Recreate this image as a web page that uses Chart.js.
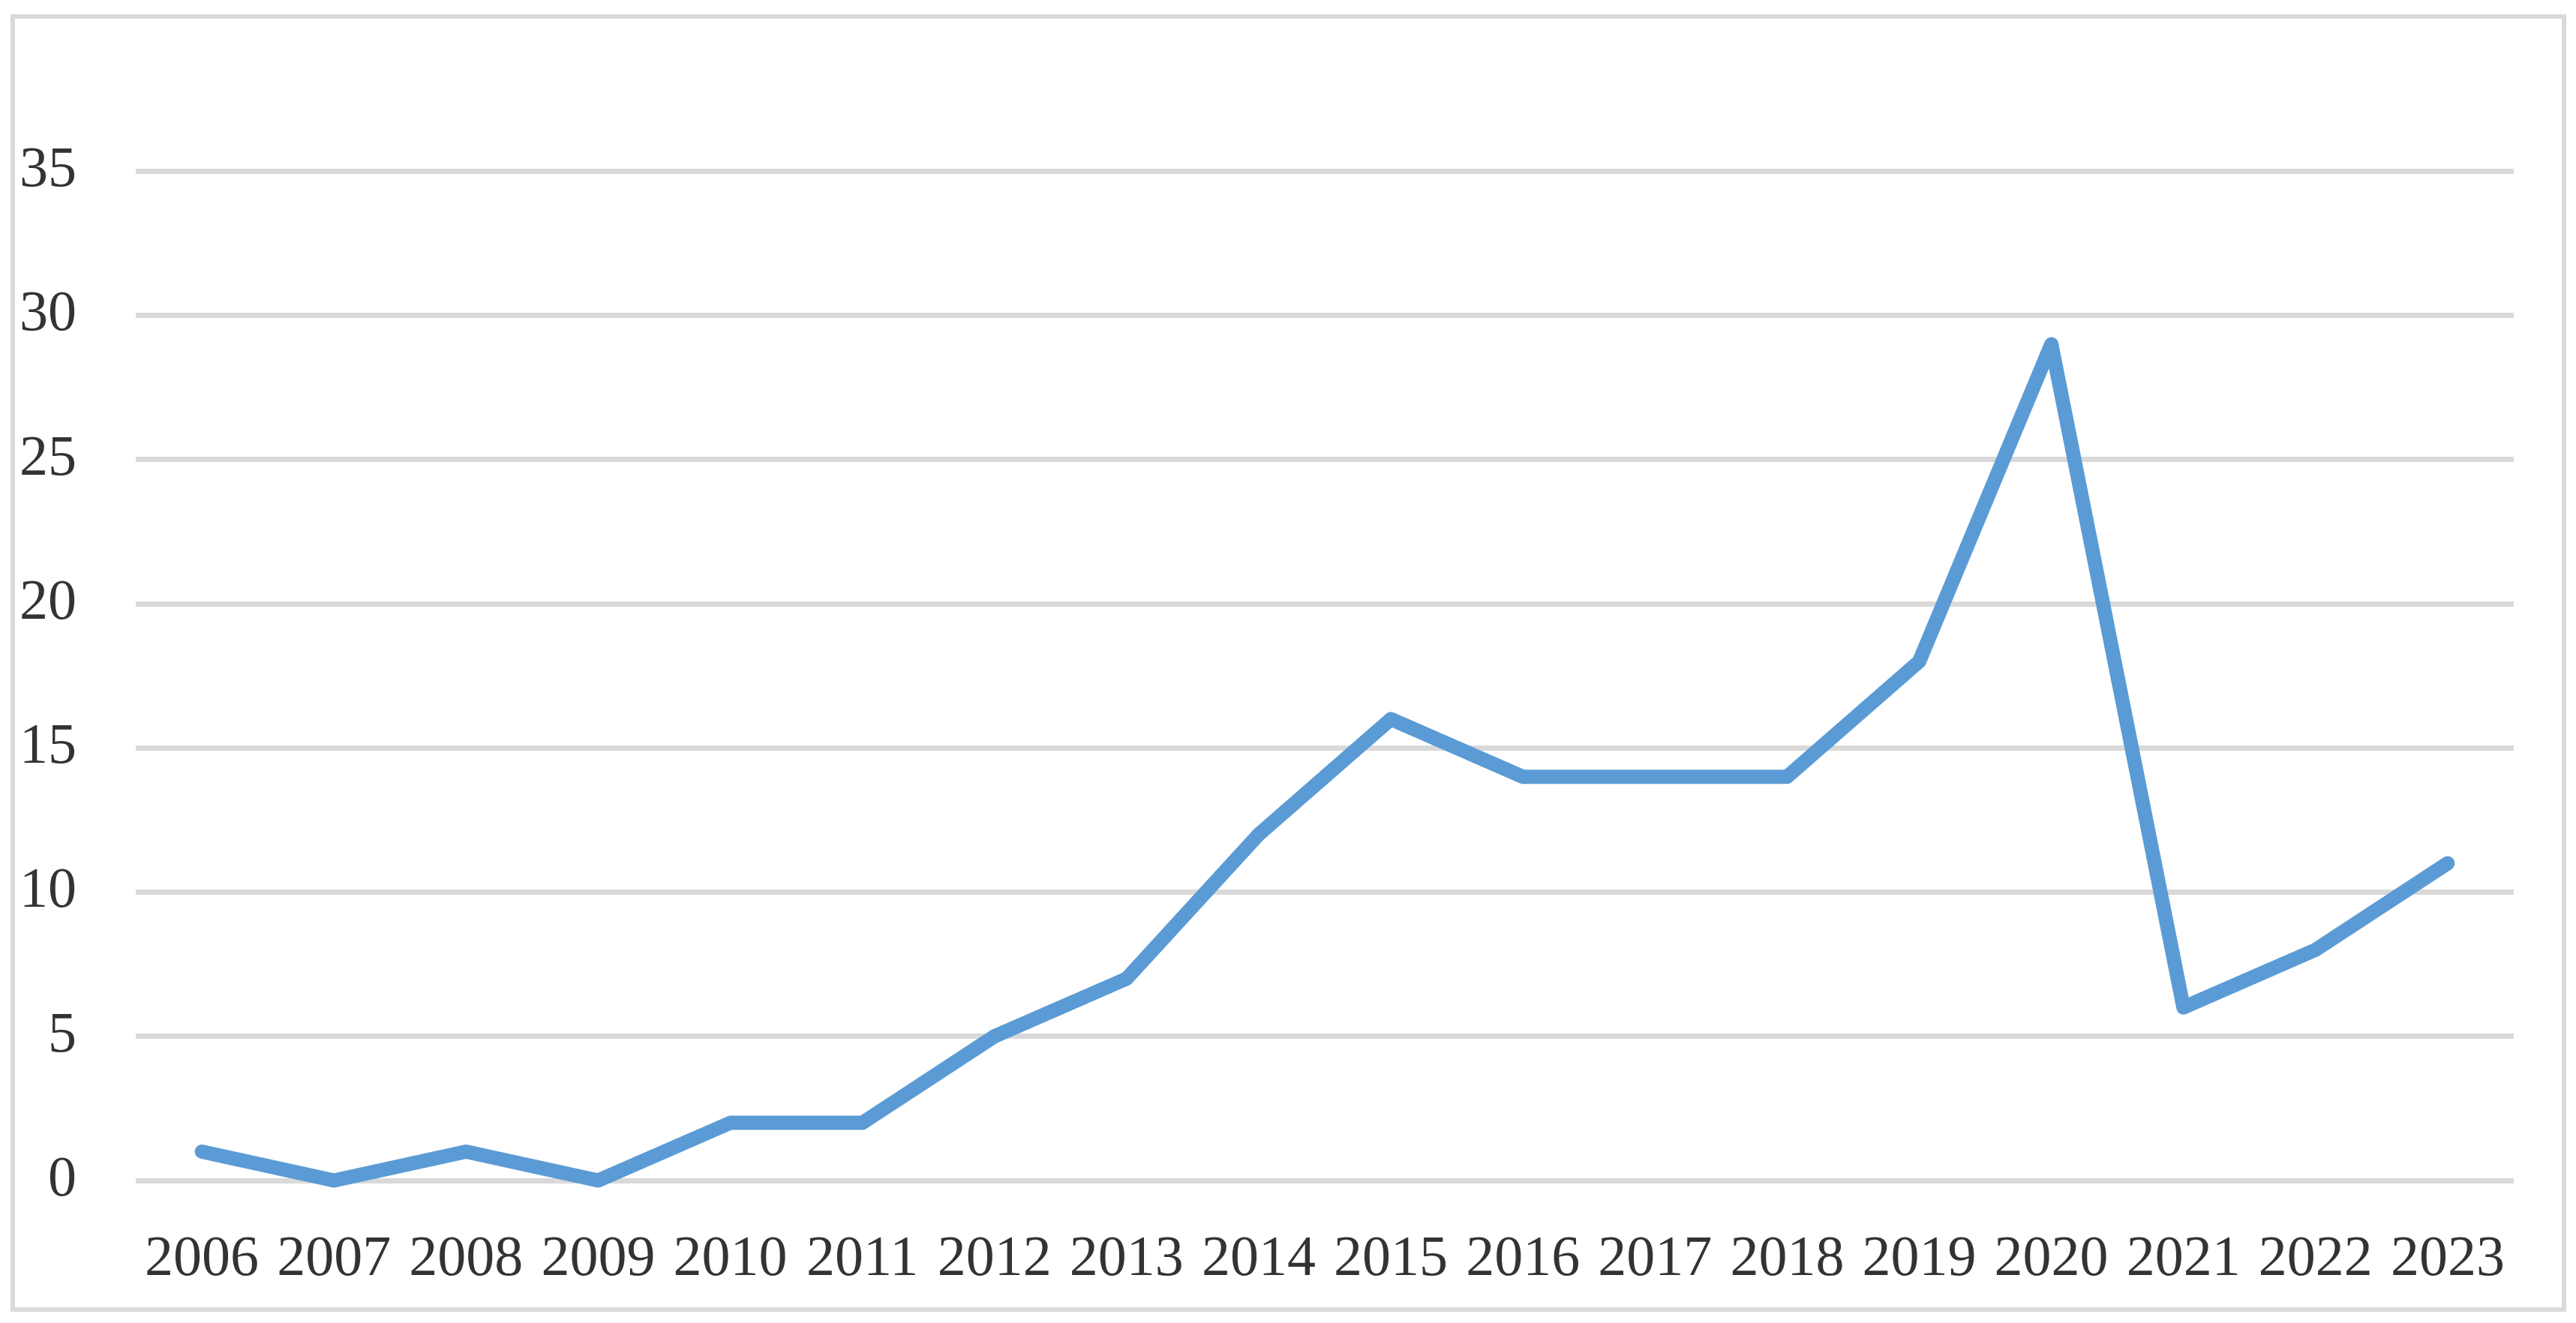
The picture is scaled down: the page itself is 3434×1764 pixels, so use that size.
<!DOCTYPE html>
<html>
<head>
<meta charset="utf-8">
<script src="https://cdn.jsdelivr.net/npm/chart.js@4"></script>
<style>
  body { margin: 0; background: #fff; }
  #wrap { position: relative; width: 3434px; height: 1764px; }
  #frame {
    position: absolute; left: 14px; top: 19px; width: 3395px; height: 1718px;
    border: 6px solid #d9d9d9; pointer-events: none;
  }
</style>
</head>
<body>
<div id="wrap">
  <canvas id="line"></canvas>
  <div id="frame"></div>
</div>
<script>
// chart values
const years = ['2006','2007','2008','2009','2010','2011','2012','2013','2014',
               '2015','2016','2017','2018','2019','2020','2021','2022','2023'];
const counts = [1, 0, 1, 0, 2, 2, 5, 7, 12, 16, 14, 14, 14, 18, 29, 6, 8, 11];
const yTicks = [0, 5, 10, 15, 20, 25, 30, 35];

const gridColor = '#d9d9d9';
const textColor = '#333333';
const labelFont = { family: 'Liberation Serif', size: 76 };

const config = {
  type: 'line',
  data: {
    labels: years,
    datasets: [{
      data: counts,
      borderColor: '#5b9bd5',
      borderWidth: 19,
      borderCapStyle: 'round',
      borderJoinStyle: 'round',
      pointRadius: 0,
      tension: 0,
      clip: false
    }]
  },
  options: {
    responsive: true,
    maintainAspectRatio: false,
    animation: false,
    layout: { padding: { top: 36, right: 83, bottom: 0, left: 0 } },
    plugins: { legend: { display: false }, tooltip: { enabled: false } },
    scales: {
      x: {
        offset: true,
        grid: { display: false, drawTicks: false },
        border: { display: false },
        ticks: { color: textColor, font: labelFont, padding: 60, maxRotation: 0, autoSkip: false },
        afterFit: function(scale){ scale.height = 1764 - 1574; }
      },
      y: {
        min: 0,
        max: 40,
        grid: { color: gridColor, lineWidth: 7, drawTicks: false },
        border: { display: false },
        ticks: { color: textColor, font: labelFont, padding: 79, stepSize: 5 },
        afterBuildTicks: function(axis){
          // top of the scale (40) has no gridline or label
          axis.ticks = yTicks.map(v => ({ value: v }));
        },
        afterFit: function(scale){
          scale.width = 181;
          scale.paddingTop = 0;
          scale.paddingBottom = 0;
        }
      }
    }
  }
};

new Chart(document.getElementById('line'), config);
</script>
</body>
</html>
